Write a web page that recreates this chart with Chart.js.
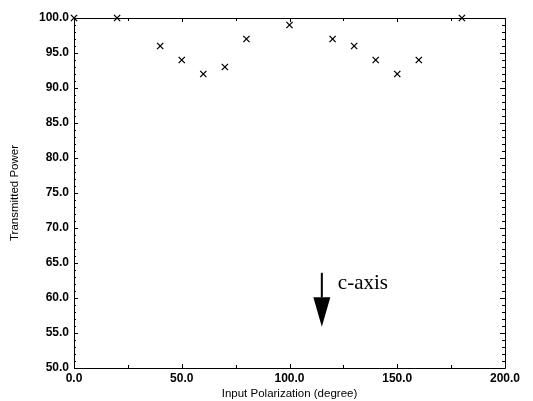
<!DOCTYPE html>
<html>
<head>
<meta charset="utf-8">
<script src="https://cdn.jsdelivr.net/npm/chart.js@4.4.0/dist/chart.umd.min.js"></script>
<style>
  html, body { margin: 0; padding: 0; background: #fff; }
  #wrap { width: 533px; height: 401px; position: relative; }
</style>
</head>
<body>
<div id="wrap"><canvas id="chart"></canvas></div>
<script>
// --- Data ---
const polarization = [0, 20, 40, 50, 60, 70, 80, 100, 120, 130, 140, 150, 160, 180];
const transmitted = [100, 100, 96, 94, 92, 93, 97, 99, 97, 96, 94, 92, 94, 100];

const xTicks = [0, 50, 100, 150, 200];
const yTicks = [50, 55, 60, 65, 70, 75, 80, 85, 90, 95, 100];

// c-axis marker, in data units
const arrowX = 115;
const arrowTop = 63.6;
const arrowHeadBase = 60.1;
const arrowTip = 55.9;
const arrowLabel = 'c-axis';

const FONT = "'Liberation Sans', Arial, sans-serif";

// frame + minor ticks + arrow annotation
const framePlugin = {
    id: 'frame',
    beforeDatasetsDraw(chart) {
        const { ctx, chartArea: a, scales } = chart;
        const xs = scales.x, ys = scales.y;
        ctx.save();
        ctx.strokeStyle = '#000';
        ctx.lineWidth = 1;
        ctx.beginPath();
        ctx.rect(a.left + 0.5, a.top + 0.5, a.right - a.left, a.bottom - a.top);
        ctx.stroke();

        // y ticks, left and right, inward
        ctx.beginPath();
        for (let v = 50; v <= 100; v++) {
            const y = Math.round(ys.getPixelForValue(v)) + 0.5;
            const len = v % 5 === 0 ? 4 : 2;
            ctx.moveTo(a.left, y); ctx.lineTo(a.left + len, y);
            ctx.moveTo(a.right, y); ctx.lineTo(a.right - len - 1, y);
        }
        // x ticks, top and bottom, inward
        for (let v = 0; v <= 200; v += 25) {
            const x = Math.round(xs.getPixelForValue(v)) + 0.5;
            const len = v % 50 === 0 ? 4 : 3;
            ctx.moveTo(x, a.bottom); ctx.lineTo(x, a.bottom - len);
            ctx.moveTo(x, a.top); ctx.lineTo(x, a.top + len);
        }
        ctx.stroke();

        // arrow
        const ax = xs.getPixelForValue(arrowX);
        const yTop = ys.getPixelForValue(arrowTop);
        const yBase = ys.getPixelForValue(arrowHeadBase);
        const yTip = ys.getPixelForValue(arrowTip);
        ctx.lineWidth = 2;
        ctx.beginPath();
        ctx.moveTo(ax, yTop); ctx.lineTo(ax, yBase);
        ctx.stroke();
        ctx.fillStyle = '#000';
        ctx.beginPath();
        ctx.moveTo(ax - 8.5, yBase);
        ctx.lineTo(ax + 8.5, yBase);
        ctx.lineTo(ax, yTip);
        ctx.closePath();
        ctx.fill();

        ctx.font = "21px 'Liberation Serif', 'Times New Roman', serif";
        ctx.textBaseline = 'middle';
        ctx.textAlign = 'left';
        ctx.fillText(arrowLabel, ax + 16, ys.getPixelForValue(62.1));
        ctx.restore();
    }
};

new Chart(document.getElementById('chart'), {
    type: 'scatter',
    data: {
        datasets: [{
            data: polarization.map((p, i) => ({ x: p, y: transmitted[i] })),
            pointStyle: 'crossRot',
            pointRadius: 4.4,
            borderColor: '#000',
            backgroundColor: '#000',
            pointBorderWidth: 1.3,
            clip: false
        }]
    },
    options: {
        responsive: true,
        maintainAspectRatio: false,
        animation: false,
        layout: { padding: { top: 18, right: 28, left: 0, bottom: 0 } },
        plugins: { legend: { display: false }, tooltip: { enabled: false } },
        scales: {
            x: {
                type: 'linear',
                min: 0, max: 200,
                afterBuildTicks: s => { s.ticks = xTicks.map(v => ({ value: v })); },
                afterFit: s => { s.height = 33; },
                grid: { display: false, drawTicks: false },
                border: { display: false },
                ticks: {
                    color: '#000', padding: 3, maxRotation: 0,
                    font: { family: FONT, size: 12, weight: 'bold' },
                    callback: v => v.toFixed(1)
                },
                title: {
                    display: true, text: 'Input Polarization (degree)', color: '#000',
                    font: { family: FONT, size: 11.5 }, padding: { top: 0, bottom: 0 }
                }
            },
            y: {
                min: 50, max: 100,
                afterBuildTicks: s => { s.ticks = yTicks.map(v => ({ value: v })); },
                afterFit: s => { s.width = 74; },
                grid: { display: false, drawTicks: false },
                border: { display: false },
                ticks: {
                    color: '#000', padding: 5,
                    font: { family: FONT, size: 12, weight: 'bold' },
                    callback: v => v.toFixed(1)
                },
                title: {
                    display: true, text: 'Transmitted Power', color: '#000',
                    font: { family: FONT, size: 11.5 }, padding: { top: 8, bottom: 0 }
                }
            }
        }
    },
    plugins: [framePlugin]
});
</script>
</body>
</html>
